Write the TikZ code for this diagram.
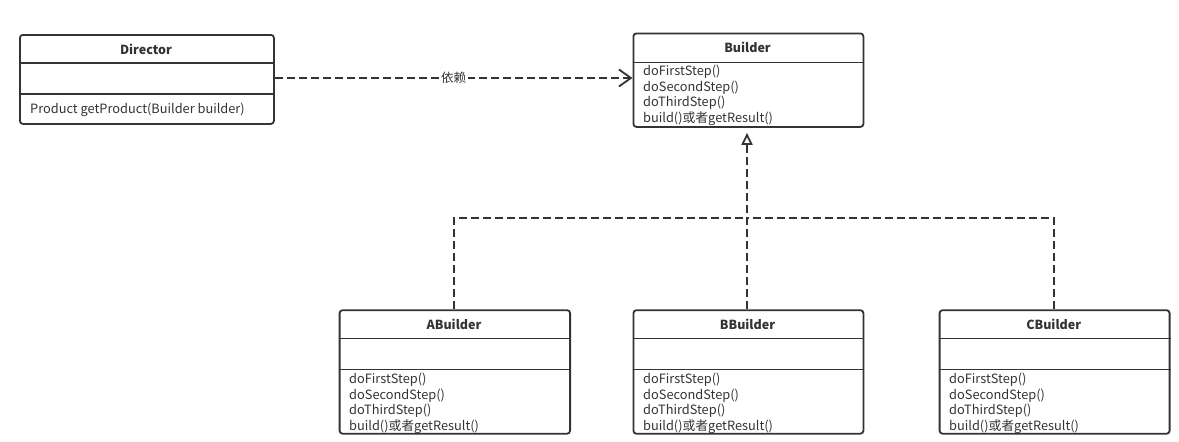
\documentclass[tikz,border=0pt]{standalone}
\usepackage{fontspec}
\setmainfont{Noto Sans CJK SC}
\usetikzlibrary{arrows.meta}
\definecolor{ink}{HTML}{333333}
\tikzset{
  classbox/.style={draw=ink, line width=1.8pt, rounded corners=3pt, inner sep=0pt, anchor=north west},
  divider/.style={draw=ink, line width=1.4pt},
  title/.style={font=\fontsize{12.5}{15}\selectfont\bfseries, text=ink, inner sep=0pt},
  members/.style={font=\fontsize{12.8}{15.9}\selectfont, text=ink, inner sep=0pt, anchor=north west, align=left},
  conn/.style={draw=ink, line width=2pt, dash pattern=on 8pt off 4pt},
}
\begin{document}
\begin{tikzpicture}[x=1pt,y=-1pt]
\useasboundingbox (0,0) rectangle (1179,442);
% Director
\node[classbox, minimum width=254pt, minimum height=89pt] (dir) at (19,34) {};
\draw[divider] ([yshift=-29pt]dir.north west) -- ([yshift=-29pt]dir.north east);
\draw[divider] ([yshift=-60pt]dir.north west) -- ([yshift=-60pt]dir.north east);
\node[title] (dirt) at (146,49.5) {Director};
\node[members, anchor=west] (dirm) at (30,110) {Product getProduct(Builder builder)};
% Builder
\node[classbox, minimum width=230pt, minimum height=93.5pt] (bld) at (632.5,32.5) {};
\draw[divider] ([yshift=-30pt]bld.north west) -- ([yshift=-30pt]bld.north east);
\node[title] (bldt) at (747.5,47.5) {Builder};
\node[members] (bldm) at (643,64.5) {doFirstStep()\\doSecondStep()\\doThirdStep()\\build()或者getResult()};
% ABuilder
\node[classbox, minimum width=230.5pt, minimum height=123.5pt] (ab) at (338.7,309.3) {};
\draw[divider] ([yshift=-29pt]ab.north west) -- ([yshift=-29pt]ab.north east);
\draw[divider] ([yshift=-60pt]ab.north west) -- ([yshift=-60pt]ab.north east);
\node[title] (abt) at (454,324.5) {ABuilder};
\node[members] (abm) at (349,372.5) {doFirstStep()\\doSecondStep()\\doThirdStep()\\build()或者getResult()};
% BBuilder
\node[classbox, minimum width=230pt, minimum height=123.5pt] (bb) at (632.5,309.3) {};
\draw[divider] ([yshift=-29pt]bb.north west) -- ([yshift=-29pt]bb.north east);
\draw[divider] ([yshift=-60pt]bb.north west) -- ([yshift=-60pt]bb.north east);
\node[title] (bbt) at (747.5,324.5) {BBuilder};
\node[members] (bbm) at (643,372.5) {doFirstStep()\\doSecondStep()\\doThirdStep()\\build()或者getResult()};
% CBuilder
\node[classbox, minimum width=230pt, minimum height=123.5pt] (cb) at (938.7,309.3) {};
\draw[divider] ([yshift=-29pt]cb.north west) -- ([yshift=-29pt]cb.north east);
\draw[divider] ([yshift=-60pt]cb.north west) -- ([yshift=-60pt]cb.north east);
\node[title] (cbt) at (1053.7,324.5) {CBuilder};
\node[members] (cbm) at (949,372.5) {doFirstStep()\\doSecondStep()\\doThirdStep()\\build()或者getResult()};
% dependency
\draw[conn, -{Straight Barb[length=12pt,width=17pt,line width=1.8pt]}] (dir.east |- 0,78) -- node[fill=white, inner sep=2pt, font=\fontsize{12.5}{14}\selectfont, text=ink] (dep) {依赖} (bld.west |- 0,78);
% realization
\coordinate (j) at (747,218);
\draw[conn] (ab.north -| 454,0) |- (j);
\draw[conn] (cb.north -| 1054,0) |- (j);
\draw[conn, -{Triangle[open,length=12pt,width=11pt,line width=1.8pt]}, shorten >=5pt] (bb.north -| 747,0) -- (bld.south -| 747,0);
\end{tikzpicture}
\end{document}
